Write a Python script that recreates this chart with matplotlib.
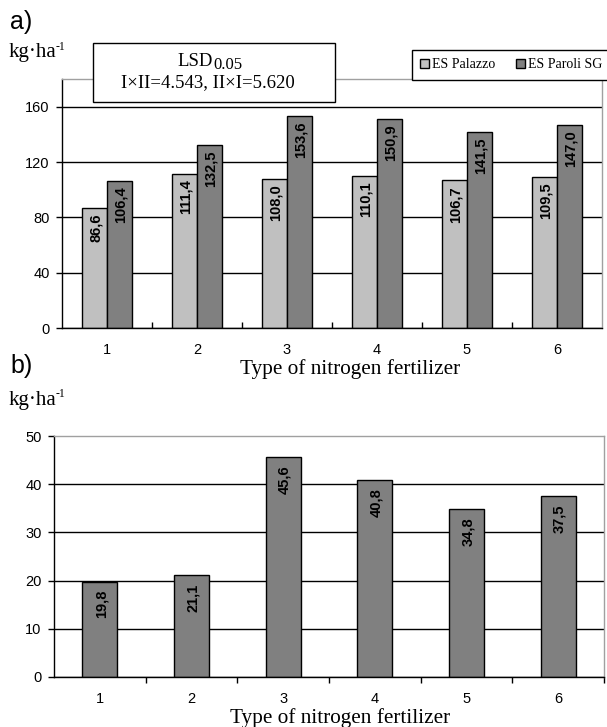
import numpy as np
import matplotlib
matplotlib.use('Agg')
from matplotlib import pyplot as plt
from matplotlib.patches import Rectangle

plt.rcParams['font.family'] = ['Liberation Sans', 'DejaVu Sans']

# dane
fertilizers = ['1', '2', '3', '4', '5', '6']
palazzo = [86.6, 111.4, 108.0, 110.1, 106.7, 109.5]
paroli = [106.4, 132.5, 153.6, 150.9, 141.5, 147.0]
difference = [19.8, 21.1, 45.6, 40.8, 34.8, 37.5]
series_names = ['ES Palazzo', 'ES Paroli SG']
xlabel = 'Type of nitrogen fertilizer'
lsd_values = 'I×II=4.543, II×I=5.620'

W, H = 607, 727
fig = plt.figure(figsize=(W / 100, H / 100), dpi=100)
serif = ['Liberation Serif', 'DejaVu Serif']

def box(l, t, r, b):
    return [l / W, 1 - b / H, (r - l) / W, (b - t) / H]

def fy(y):
    return 1 - y / H

def fmt(v):
    return f'{v:.1f}'.replace('.', ',')

def style_axes(ax, ymax, step, tick_dir, label_pad):
    ax.set_xlim(-0.5, len(fertilizers) - 0.5)
    ax.set_ylim(0, ymax)
    ax.set_yticks(np.arange(0, ymax + 0.1, step) if ymax % step == 0 else np.arange(0, ymax, step))
    ax.yaxis.grid(True, color='black', lw=1)
    ax.set_axisbelow(True)
    for s in ['left', 'bottom']:
        ax.spines[s].set_color('black')
        ax.spines[s].set_linewidth(1)
    for s in ['top', 'right']:
        ax.spines[s].set_color('#a0a0a0')
        ax.spines[s].set_linewidth(1)
    ax.tick_params(axis='y', direction='out', length=4, width=1, pad=5, labelsize=10.5)
    # podziałki między kategoriami, etykiety na środkach
    x = np.arange(len(fertilizers))
    ax.set_xticks(x[1:] - 0.5)
    ax.set_xticklabels([])
    ax.tick_params(axis='x', which='major', direction=tick_dir, length=4, width=1)
    ax.set_xticks(x, minor=True)
    ax.set_xticklabels(fertilizers, minor=True)
    ax.tick_params(axis='x', which='minor', length=0, pad=label_pad, labelsize=10.5)

def unit_label(x, y):
    fig.text(x / W, fy(y), 'kg·ha', family=serif, fontsize=15, va='center')
    fig.text((x + 47) / W, fy(y - 6), '-1', family=serif, fontsize=8.5, va='center')

# a)
ax1 = fig.add_axes(box(62, 79, 602, 328))
x = np.arange(len(fertilizers))
w = 0.278
b1 = ax1.bar(x - w / 2, palazzo, w, color='#c0c0c0', edgecolor='black', lw=1)
b2 = ax1.bar(x + w / 2, paroli, w, color='#808080', edgecolor='black', lw=1)
for bars, vals in [(b1, palazzo), (b2, paroli)]:
    for r, v in zip(bars, vals):
        ax1.annotate(fmt(v), (r.get_x() + r.get_width() / 2, v), xytext=(1, -4),
                     textcoords='offset points', rotation=90, ha='center', va='top',
                     fontsize=10.5, fontweight='bold')
style_axes(ax1, 180, 40, 'in', 11)

# b)
ax2 = fig.add_axes(box(54, 436, 604, 677))
b3 = ax2.bar(x, difference, 0.38, color='#808080', edgecolor='black', lw=1)
for r, v in zip(b3, difference):
    ax2.annotate(fmt(v), (r.get_x() + r.get_width() / 2, v), xytext=(1, -6),
                 textcoords='offset points', rotation=90, ha='center', va='top',
                 fontsize=10.5, fontweight='bold')
style_axes(ax2, 50, 10, 'out', 11)
ax2.set_xticks(np.arange(len(fertilizers)) + 0.5)
ax2.set_xticklabels([])
ax2.get_ygridlines()[-1].set_visible(False)

fig.text(10 / W, fy(22), 'a)', fontsize=18, va='center')
fig.text(10 / W, fy(366), 'b)', fontsize=18, va='center')
unit_label(9, 53)
unit_label(9, 400)
fig.text(350 / W, fy(369), xlabel, family=serif, fontsize=15.3, ha='center', va='center')
fig.text(340 / W, fy(718), xlabel, family=serif, fontsize=15.3, ha='center', va='center')

# ramka LSD
fig.add_artist(Rectangle((93 / W, fy(102)), 242 / W, 59 / H, transform=fig.transFigure,
                         facecolor='white', edgecolor='black', lw=1, zorder=5))
fig.text(213 / W, fy(62), 'LSD', family=serif, fontsize=13.5, ha='right', va='center', zorder=6)
fig.text(213 / W, fy(65), '0.05', family=serif, fontsize=12, ha='left', va='center', zorder=6)
fig.text(208 / W, fy(83), lsd_values, family=serif, fontsize=13.5, ha='center', va='center', zorder=6)

leg = fig.legend([b1, b2], series_names, loc='upper left', bbox_to_anchor=(412 / W, fy(50)),
                 ncol=2, fancybox=False, edgecolor='black', framealpha=1, borderpad=0.6,
                 handlelength=0.6, handleheight=0.6, handletextpad=0.25, columnspacing=1.5,
                 borderaxespad=0, prop={'family': serif, 'size': 10})
leg.get_frame().set_linewidth(1)
leg.set_zorder(5)

plt.savefig('out.png', dpi=100)
